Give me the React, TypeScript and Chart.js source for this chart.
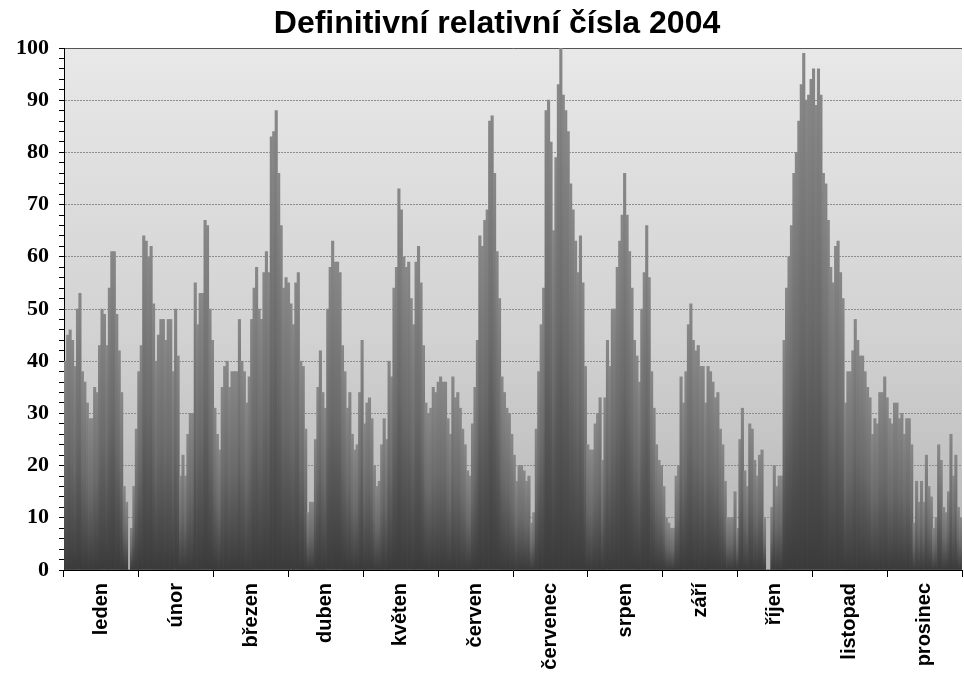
import React, { useEffect, useRef } from "react";
import { Chart, registerables } from "chart.js";

Chart.register(...registerables);

const TITLE = "Definitivní relativní čísla 2004";
const MONTHS = ["leden", "únor", "březen", "duben", "květen", "červen", "červenec", "srpen", "září", "říjen", "listopad", "prosinec"];

const JAN = [40, 45, 46, 44, 39, 50, 53, 38, 36, 32, 29, 29, 35, 34, 43, 50, 49, 43, 54, 61, 61, 49, 42, 34, 16, 13, 0, 8, 16, 27, 38];
const FEB = [43, 64, 63, 60, 62, 51, 40, 45, 48, 48, 44, 48, 48, 38, 50, 41, 18, 22, 18, 26, 30, 30, 55, 47, 53, 53, 67, 66, 50];
const MAR = [44, 31, 26, 23, 35, 39, 40, 35, 38, 38, 38, 48, 40, 38, 32, 37, 48, 54, 58, 50, 48, 57, 61, 57, 83, 84, 88, 76, 66, 54, 56];
const APR = [55, 51, 47, 55, 57, 40, 39, 27, 11, 13, 13, 25, 35, 42, 34, 31, 50, 58, 63, 59, 59, 57, 43, 38, 31, 34, 26, 23, 24, 34];
const MAY = [44, 28, 32, 33, 29, 20, 16, 17, 24, 29, 25, 40, 37, 54, 58, 73, 69, 60, 58, 59, 52, 47, 59, 62, 55, 43, 32, 30, 31, 35, 34];
const JUN = [36, 37, 36, 36, 29, 26, 37, 33, 34, 31, 27, 24, 19, 18, 28, 35, 44, 64, 62, 67, 69, 86, 87, 76, 61, 52, 37, 34, 31, 30];
const JUL = [26, 22, 17, 20, 20, 19, 17, 18, 9, 11, 27, 38, 47, 54, 88, 90, 82, 65, 79, 93, 100, 91, 88, 84, 74, 69, 63, 57, 64, 55, 39];
const AUG = [24, 23, 23, 28, 30, 33, 21, 33, 44, 39, 50, 50, 58, 63, 68, 76, 68, 61, 54, 44, 41, 36, 50, 57, 66, 56, 38, 31, 24, 21, 20];
const SEP = [16, 10, 9, 8, 8, 18, 20, 37, 32, 38, 47, 51, 44, 42, 43, 39, 39, 32, 39, 38, 36, 33, 34, 27, 24, 17, 10, 10, 10, 15];
const OCT = [8, 25, 31, 19, 16, 28, 27, 21, 18, 22, 23, 10, 0, 0, 12, 20, 16, 18, 18, 44, 54, 60, 66, 76, 80, 86, 93, 99, 90, 91, 94];
const NOV = [96, 89, 96, 91, 76, 74, 67, 58, 55, 62, 63, 57, 52, 32, 38, 38, 42, 48, 44, 41, 41, 38, 35, 33, 26, 29, 28, 34, 34, 37];
const DEC = [33, 29, 28, 32, 32, 29, 30, 26, 29, 29, 24, 9, 17, 13, 17, 13, 22, 16, 14, 8, 10, 24, 21, 12, 11, 15, 26, 18, 22, 12, 10];

const Y_MIN = 0;
const Y_MAX = 100;
const Y_MAJOR = 10;
const Y_MINOR = 2;

export default function App() {
  const ref = useRef<HTMLCanvasElement>(null);

  useEffect(() => {
    const canvas = ref.current;
    if (!canvas) return;
    const values = [...JAN, ...FEB, ...MAR, ...APR, ...MAY, ...JUN, ...JUL, ...AUG, ...SEP, ...OCT, ...NOV, ...DEC];
    const labels = values.map((_, i) => String(i + 1));
    const perMonth = values.length / MONTHS.length;

    const plotBg = {
      id: "plotBg",
      beforeDraw(chart: any) {
        const { ctx, chartArea: a } = chart;
        if (!a) return;
        const g = ctx.createLinearGradient(0, a.top, 0, a.bottom);
        g.addColorStop(0, "#e8e8e8");
        g.addColorStop(0.55, "#d2d2d2");
        g.addColorStop(1, "#b4b4b4");
        ctx.save();
        ctx.fillStyle = g;
        ctx.fillRect(a.left, a.top, a.right - a.left, a.bottom - a.top);
        ctx.restore();
      },
    };

    const barFill = (c: any) => {
      const chart = c.chart;
      const ys = chart.scales && chart.scales.y;
      if (!ys || c.type !== "data") return "#666666";
      const v = typeof c.raw === "number" ? c.raw : 0;
      const top = ys.getPixelForValue(v);
      const bottom = ys.getPixelForValue(0);
      if (!isFinite(top) || !isFinite(bottom) || bottom - top < 1) return "#555555";
      const g = chart.ctx.createLinearGradient(0, top, 0, bottom);
      g.addColorStop(0, "#888888");
      g.addColorStop(0.5, "#6a6a6a");
      g.addColorStop(1, "#3a3a3a");
      return g;
    };

    const chart = new Chart(canvas, {
      type: "bar",
      data: {
        labels,
        datasets: [
          {
            data: values,
            backgroundColor: barFill,
            borderWidth: 0,
            categoryPercentage: 1,
            barPercentage: 1,
          },
        ],
      },
      options: {
        animation: false,
        responsive: true,
        maintainAspectRatio: false,
        devicePixelRatio: 1,
        layout: { padding: { left: 0, right: 2, top: 48, bottom: 0 } },
        plugins: {
          legend: { display: false },
          tooltip: { enabled: false },
          title: { display: false },
        },
        scales: {
          x: {
            type: "category",
            offset: true,
            afterBuildTicks: (s: any) => {
              s.ticks = MONTHS.map((_, i) => ({ value: i * perMonth + perMonth / 2 - 0.5 }));
            },
            afterFit: (s: any) => {
              s.height = 105;
            },
            ticks: {
              autoSkip: false,
              minRotation: 90,
              maxRotation: 90,
              padding: 6,
              color: "#000000",
              font: { family: "'Liberation Sans', Arial, sans-serif", size: 20, weight: "bold" },
              callback: (_v: any, i: number) => MONTHS[i],
            },
            grid: {
              offset: true,
              drawOnChartArea: false,
              drawTicks: true,
              tickLength: 7,
              color: "#000000",
              tickColor: "#000000",
              lineWidth: 1,
            },
            border: { display: true, color: "#000000", width: 1 },
          },
          y: {
            type: "linear",
            min: Y_MIN,
            max: Y_MAX,
            afterFit: (s: any) => {
              s.width = 64;
            },
            ticks: {
              stepSize: Y_MINOR,
              autoSkip: false,
              padding: 10,
              color: "#000000",
              font: { family: "'Liberation Serif', 'Times New Roman', serif", size: 22, weight: "bold" },
              callback: (v: any) => (Number(v) % Y_MAJOR === 0 ? String(v) : ""),
            },
            grid: {
              drawOnChartArea: true,
              drawTicks: true,
              tickLength: 5,
              lineWidth: 1,
              tickColor: "#000000",
              color: (c: any) => {
                const v = c.tick ? c.tick.value : 0;
                if (v === Y_MAX) return "#555555";
                return v % Y_MAJOR === 0 && v > Y_MIN ? "#8c8c8c" : "rgba(0,0,0,0)";
              },
            },
            border: {
              display: true,
              color: "#000000",
              width: 1,
              dash: (c: any) => (c.tick && c.tick.value === Y_MAX ? [] : [2, 1]),
            },
          },
        },
      },
      plugins: [plotBg],
    });

    return () => chart.destroy();
  }, []);

  return (
    <div style={{ position: "fixed", left: 0, top: 0, width: 964, height: 675, background: "#ffffff" }}>
      <canvas ref={ref} />
      <div
        style={{
          position: "absolute",
          left: 297,
          width: 400,
          top: 6,
          textAlign: "center",
          whiteSpace: "nowrap",
          fontFamily: "'Liberation Sans', Arial, sans-serif",
          fontWeight: "bold",
          fontSize: 32,
          lineHeight: "32px",
          color: "#000000",
          display: "flex",
          justifyContent: "center",
        }}
      >
        {TITLE}
      </div>
    </div>
  );
}
